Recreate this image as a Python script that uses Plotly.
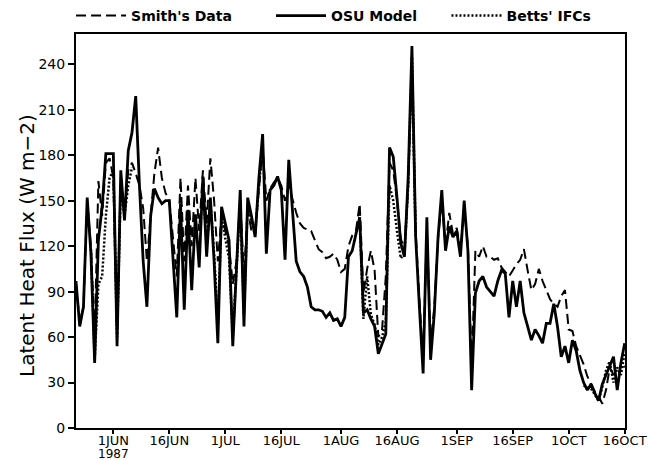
import pandas as pd
import plotly.graph_objects as go

# ---- data ----
start_date = "1987-05-22"
end_date = "1987-10-16"
year_label = "1987"

tick_dates = ["1987-06-01", "1987-06-16", "1987-07-01", "1987-07-16", "1987-08-01",
              "1987-08-16", "1987-09-01", "1987-09-16", "1987-10-01", "1987-10-16"]
tick_labels = ["1JUN", "16JUN", "1JUL", "16JUL", "1AUG",
               "16AUG", "1SEP", "16SEP", "1OCT", "16OCT"]
y_ticks = [0, 30, 60, 90, 120, 150, 180, 210, 240]

series_names = ["Smith's Data", "OSU Model", "Betts' IFCs"]

osu_model = [
    97, 67, 80, 152, 115, 43, 124, 146, 181, 181,
    181, 54, 170, 137, 183, 195, 219, 160, 110, 80,
    140, 158, 152, 148, 150, 150, 110, 73, 148, 78,
    144, 91, 141, 106, 166, 113, 152, 110, 56, 146,
    135, 124, 54, 110, 157, 67, 152, 140, 126, 165,
    194, 115, 157, 160, 166, 157, 111, 177, 146, 110,
    103, 100, 93, 80, 78, 78, 77, 73, 76, 71,
    72, 67, 73, 113, 117, 128, 139, 76, 78, 72,
    67, 49, 55, 62, 185, 179, 152, 122, 113, 166,
    252, 126, 80, 36, 139, 45, 76, 126, 157, 117,
    133, 126, 130, 113, 150, 117, 25, 89, 97, 100,
    93, 90, 87, 97, 104, 102, 73, 97, 80, 97,
    76, 67, 58, 65, 61, 56, 69, 69, 82, 67,
    47, 54, 43, 58, 51, 38, 30, 25, 29, 23,
    18, 29, 35, 40, 47, 25, 43, 56,
]

smith_data = [
    95, 70, 80, 150, 120, 60, 163, 140, 175, 178,
    165, 60, 165, 140, 170, 175, 168, 160, 145, 110,
    140, 168, 185, 165, 155, 150, 125, 100, 165, 110,
    160, 120, 165, 130, 170, 135, 178, 150, 110, 140,
    130, 120, 95, 110, 150, 100, 145, 130, 130, 160,
    185, 150, 158, 162, 165, 160, 150, 160, 150, 142,
    135, 132, 131, 130, 124, 118, 116, 112, 113, 115,
    111, 103, 105, 120, 127, 130, 148, 89, 105, 117,
    104, 60, 65, 100, 175, 170, 150, 125, 118, 160,
    240, 130, 85, 45, 130, 55, 80, 125, 150, 120,
    142, 128, 132, 118, 145, 120, 40, 117, 113, 120,
    113, 113, 111, 112, 106, 103, 100, 104, 108, 111,
    118, 104, 91, 95, 105, 97, 91, 85, 82, 80,
    87, 91, 65, 64, 54, 48, 42, 34, 29, 24,
    21, 16, 25, 40, 35, 29, 43, 40,
]

# Betts' IFC values (only during the four field campaigns; None elsewhere)
betts_ifc1 = [118, 45, 95, 100, 140, 165, 170, 60, 160, 140, 160, 172]
betts_ifc2 = [160, 120, 150, 115, 70, 140, 125, 112, 60, 105, 150, 75, 148, 135, 128, 160, 185]
betts_ifc3 = [139, 72, 100, 75, 68, 55, 60, 70, 160, 150, 130, 112, 115, 160, 245, 126]
betts_ifc4 = [28, 27, 26, 22, 18, 27, 38, 44, 30, 40, 35, 50]
betts_ifcs = ([None] * 4 + betts_ifc1 + [None] * 18 + betts_ifc2 + [None] * 25
              + betts_ifc3 + [None] * 44 + betts_ifc4)

dates = pd.date_range(start_date, end_date, freq="D")

FONT = "DejaVu Sans"
NB = "\u00a0"  # spacing after legend entries

fig = go.Figure()
fig.add_trace(go.Scatter(x=dates, y=smith_data, mode="lines", name=series_names[0] + NB * 7,
                         line=dict(color="black", width=2, dash="10px,5px")))
fig.add_trace(go.Scatter(x=dates, y=osu_model, mode="lines", name=series_names[1] + NB * 5,
                         line=dict(color="black", width=2.8)))
fig.add_trace(go.Scatter(x=dates, y=betts_ifcs, mode="lines", name=series_names[2],
                         connectgaps=False,
                         line=dict(color="black", width=2.5, dash="2px,2px")))

fig.update_layout(
    width=649, height=460,
    margin=dict(l=76, r=24, t=34, b=32, autoexpand=False),
    paper_bgcolor="white", plot_bgcolor="white",
    font=dict(family=FONT, color="black", size=14),
    showlegend=True,
    legend=dict(orientation="h", x=-0.009, xanchor="left", y=1.0863, yanchor="top",
                font=dict(family=FONT, size=14, color="black", weight="bold"),
                itemwidth=50, bgcolor="rgba(0,0,0,0)", tracegroupgap=0),
    annotations=[
        dict(text="Latent Heat Flux (W m\u22122)", textangle=-90, showarrow=False,
             xref="paper", yref="paper", x=-0.0893, y=0.4645,
             xanchor="center", yanchor="middle",
             font=dict(family=FONT, size=20, color="black")),
        dict(text=year_label, showarrow=False, xref="x", yref="paper",
             x=tick_dates[0], y=-0.066, xanchor="center", yanchor="middle",
             font=dict(family=FONT, size=12, color="black")),
    ],
)

fig.update_xaxes(
    type="date", range=[start_date, end_date + " 02:00"],
    tickmode="array", tickvals=tick_dates, ticktext=tick_labels,
    ticks="outside", ticklen=4, tickwidth=1.5, tickcolor="black",
    ticklabelstandoff=-5,
    showline=True, linewidth=2, linecolor="black", mirror=True,
    showgrid=False, zeroline=False, automargin=False,
    tickfont=dict(family=FONT, size=13, color="black"),
)
fig.update_yaxes(
    range=[0, 260], tickmode="array", tickvals=y_ticks,
    ticks="outside", ticklen=6, tickwidth=1.5, tickcolor="black",
    showline=True, linewidth=2, linecolor="black", mirror=True,
    showgrid=False, zeroline=False, automargin=False,
    tickfont=dict(family=FONT, size=14, color="black"),
)

fig.write_html("out.html", config={"displayModeBar": False},
               post_script="document.body.style.margin='0px';")
